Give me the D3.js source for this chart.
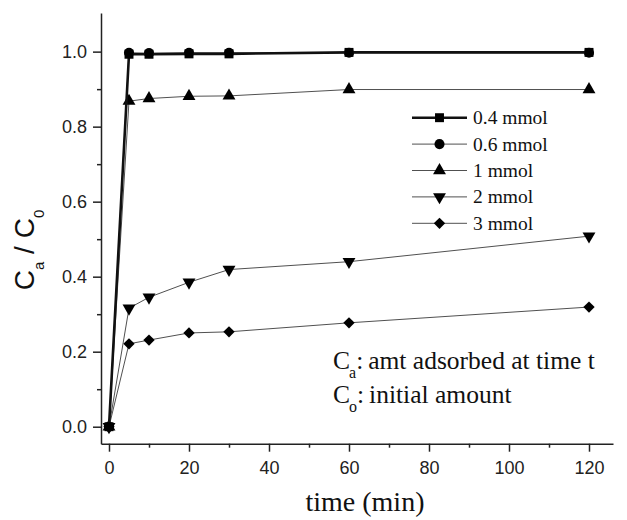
<!DOCTYPE html>
<html>
<head>
<meta charset="utf-8">
<script src="https://cdn.jsdelivr.net/npm/d3@7"></script>
<style>
  body { margin: 0; background: #fff; }
  svg { display: block; }
  .serif { font-family: "Liberation Serif", "Times New Roman", Times, serif; }
  .sans { font-family: "Liberation Sans", Arial, Helvetica, sans-serif; }
</style>
</head>
<body>
<svg id="chart"></svg>
<script>
// time points (min)
const times = [0, 5, 10, 20, 30, 60, 120];

// Ca/C0 for each amount
const amt04 = [0, 0.993, 0.993, 0.994, 0.994, 0.998, 0.998];
const amt06 = [0, 0.997, 0.996, 0.997, 0.997, 0.997, 0.997];
const amt1 = [0, 0.868, 0.875, 0.881, 0.882, 0.899, 0.899];
const amt2 = [0, 0.316, 0.345, 0.385, 0.419, 0.44, 0.508];
const amt3 = [0, 0.221, 0.231, 0.25, 0.253, 0.277, 0.319];

const seriesNames = ["0.4 mmol", "0.6 mmol", "1 mmol", "2 mmol", "3 mmol"];

const xTicks = [0, 20, 40, 60, 80, 100, 120];
const xMinor = [10, 30, 50, 70, 90, 110];
const yTicks = [0, 0.2, 0.4, 0.6, 0.8, 1.0];
const yMinor = [0.1, 0.3, 0.5, 0.7, 0.9];

const width = 627, height = 520;

const svg = d3.select("#chart")
    .attr("width", width)
    .attr("height", height)
    .attr("viewBox", [0, 0, width, height]);

const x = d3.scaleLinear().domain([-2, 126]).range([101, 613]);
const y = d3.scaleLinear().domain([-0.0453, 1.103]).range([443.7, 13]);

// marker shapes
const sq = d3.symbol(d3.symbolSquare, 80)();
const circ = d3.symbol(d3.symbolCircle, 80)();
const tri = d3.symbol(d3.symbolTriangle, 72)();
const dia = d3.symbol(d3.symbolSquare, 64)();

const series = [
  {name: seriesNames[2], values: amt1, path: tri, rot: 0, lw: 1},
  {name: seriesNames[3], values: amt2, path: tri, rot: 180, lw: 1},
  {name: seriesNames[4], values: amt3, path: dia, rot: 45, lw: 1},
  {name: seriesNames[1], values: amt06, path: circ, rot: 0, lw: 1},
  {name: seriesNames[0], values: amt04, path: sq, rot: 0, lw: 2.6},
];

// axes
const axisColor = "#222";
svg.append("g")
    .attr("transform", `translate(0,${y.range()[0]})`)
    .call(d3.axisBottom(x).tickValues(xTicks).tickSize(8).tickSizeOuter(0).tickPadding(10));
svg.append("g")
    .attr("transform", `translate(0,${y.range()[0]})`)
    .call(d3.axisBottom(x).tickValues(xMinor).tickSize(4).tickFormat(""))
    .call(g => g.select(".domain").remove());

svg.append("g")
    .attr("transform", `translate(${x.range()[0]},0)`)
    .call(d3.axisLeft(y).tickValues(yTicks).tickSize(8).tickSizeOuter(0).tickPadding(6).tickFormat(d3.format(".1f")));
svg.append("g")
    .attr("transform", `translate(${x.range()[0]},0)`)
    .call(d3.axisLeft(y).tickValues(yMinor).tickSize(4).tickFormat(""))
    .call(g => g.select(".domain").remove());

svg.selectAll("g").attr("font-family", null).attr("font-size", null);
svg.selectAll(".domain").attr("stroke", axisColor).attr("stroke-width", 1.5);
svg.selectAll(".tick line").attr("stroke", axisColor).attr("stroke-width", 1.5);
svg.selectAll(".tick text")
    .attr("class", "sans")
    .attr("fill", "#222")
    .attr("font-size", 18);

// lines and markers
const line = d3.line()
    .x((d, i) => x(times[i]))
    .y(d => y(d));

series.forEach(s => {
  svg.append("path")
      .attr("fill", "none")
      .attr("stroke", s.lw > 2 ? "#111" : "#505050")
      .attr("stroke-width", s.lw)
      .attr("stroke-linejoin", "round")
      .attr("d", line(s.values));
  svg.append("g").selectAll("path")
    .data(s.values)
    .join("path")
      .attr("d", s.path)
      .attr("fill", "#000")
      .attr("transform", (d, i) => `translate(${x(times[i])},${y(d)}) rotate(${s.rot})`);
});

// legend
const legendItems = [
  {name: seriesNames[0], path: sq, rot: 0, lw: 2.6},
  {name: seriesNames[1], path: circ, rot: 0, lw: 1},
  {name: seriesNames[2], path: tri, rot: 0, lw: 1},
  {name: seriesNames[3], path: tri, rot: 180, lw: 1},
  {name: seriesNames[4], path: dia, rot: 45, lw: 1},
];
const legend = svg.append("g").attr("transform", "translate(412,117.7)");
legendItems.forEach((it, i) => {
  const g = legend.append("g").attr("transform", `translate(0,${i * 26.4})`);
  g.append("line")
      .attr("x1", 0).attr("x2", 55)
      .attr("stroke", it.lw > 2 ? "#111" : "#505050")
      .attr("stroke-width", it.lw);
  g.append("path")
      .attr("d", it.path)
      .attr("transform", `translate(27.5,0) rotate(${it.rot})`)
      .attr("fill", "#000");
  g.append("text")
      .attr("class", "serif")
      .attr("x", 61)
      .attr("y", 6.5)
      .attr("fill", "#111")
      .attr("font-size", 19.5)
      .text(it.name);
});

// annotation
function note(yPos, sub, rest) {
  const t = svg.append("text")
      .attr("class", "serif")
      .attr("x", 333).attr("y", yPos)
      .attr("fill", "#111")
      .attr("font-size", 25.5);
  t.append("tspan").text("C");
  t.append("tspan").attr("dx", -1).attr("dy", 9).attr("font-size", 16).text(sub);
  t.append("tspan").attr("dy", -9).text(":");
  t.append("tspan").attr("dx", 5).text(rest);
}
note(369, "a", "amt adsorbed at time t");
note(403, "o", "initial amount");

// axis titles
svg.append("text")
    .attr("class", "serif")
    .attr("x", 365).attr("y", 511)
    .attr("text-anchor", "middle")
    .attr("fill", "#111")
    .attr("font-size", 28)
    .text("time (min)");

const yl = svg.append("text")
    .attr("class", "sans")
    .attr("transform", "translate(34,250) rotate(-90)")
    .attr("text-anchor", "middle")
    .attr("fill", "#111")
    .attr("font-size", 28);
yl.append("tspan").text("C");
yl.append("tspan").attr("dy", 10).attr("font-size", 15).text("a");
yl.append("tspan").attr("dy", -10).text(" / C");
yl.append("tspan").attr("dy", 10).attr("font-size", 15).text("0");
</script>
</body>
</html>
